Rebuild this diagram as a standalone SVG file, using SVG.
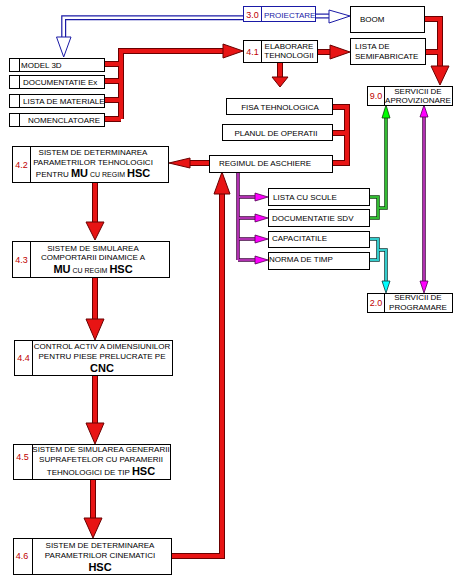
<svg xmlns="http://www.w3.org/2000/svg" xmlns:xlink="http://www.w3.org/1999/xlink" width="458" height="577" viewBox="0 0 458 577">
<style>
.bg{fill:#fff}
.box{fill:#fff;stroke:#000;stroke-width:1}
.bbox{fill:#fff;stroke:#1a1aa6;stroke-width:1}
.t{font-family:"Liberation Sans",Arial,sans-serif;font-size:8px;fill:#000}
.tc{text-anchor:middle}
.num{font-family:"Liberation Sans",Arial,sans-serif;font-size:9px;fill:#c00000;text-anchor:middle}
.big{font-size:11px;font-weight:bold}
.sm{font-size:7px}
.blue{fill:#1a1aa6}
.ro{fill:none;stroke:#6a0000;stroke-width:6;stroke-linejoin:miter}
.ri{fill:none;stroke:#e81414;stroke-width:4;stroke-linejoin:miter}
.rh{fill:#e81414;stroke:#6a0000;stroke-width:1}
.bo{fill:none;stroke:#1a1aa6;stroke-width:5}
.bi{fill:none;stroke:#fff;stroke-width:2.6}
.bh{fill:#fff;stroke:#1a1aa6;stroke-width:1}
.mo{fill:none;stroke:#400040;stroke-width:3.5}
.mi{fill:none;stroke:#b030b0;stroke-width:2}
.mh{fill:#ff00ff;stroke:#500050;stroke-width:0.8}
.go{fill:none;stroke:#0a400a;stroke-width:3.5}
.gi{fill:none;stroke:#33bb33;stroke-width:2}
.gh{fill:#00ff00;stroke:#0a400a;stroke-width:0.8}
.co{fill:none;stroke:#0a3a3a;stroke-width:3.5}
.ci{fill:none;stroke:#33cccc;stroke-width:2}
.ch{fill:#00ffff;stroke:#0a3a3a;stroke-width:0.8}
</style>
<defs>
<path id="p1" d="M104,64H121M104,81H121M104,100H121M104,119H121M121,119V51H224"/>
<path id="p2" d="M317,52H331"/>
<path id="p3" d="M280,63V78"/>
<path id="p4" d="M424,19H440V67M425,52H440"/>
<path id="p5" d="M332,107H347V163H332M332,133H347"/>
<path id="p6" d="M209,163H189"/>
<path id="p7" d="M95,182V223"/>
<path id="p8" d="M95,277V320"/>
<path id="p9" d="M95,375V424"/>
<path id="p10" d="M93,479V519"/>
<path id="p11" d="M171,556H222V193"/>
<path id="pb1" d="M243,17.7H63.7V38"/>
<path id="pb2" d="M315,16H330"/>
<path id="pm1" d="M238,172V260M238,197H256M238,218H256M238,239H256M238,260H256"/>
<path id="pm2" d="M424,116V282"/>
<path id="pg" d="M369,197H378V218H369M378,208H386V117"/>
<path id="pc" d="M369,239H378V260H369M378,250H386V282"/>
</defs>
<rect class="bg" x="0" y="0" width="458" height="577"/>
<g id="connectors">
<use xlink:href="#pb1" class="bo"/><use xlink:href="#pb1" class="bi"/>
<polygon class="bh" points="56.5,37 71,37 63.7,57"/>
<use xlink:href="#pb2" class="bo"/><use xlink:href="#pb2" class="bi"/>
<polygon class="bh" points="329,10 329,23 350,16"/>
<use xlink:href="#p1" class="ro"/><use xlink:href="#p2" class="ro"/><use xlink:href="#p3" class="ro"/><use xlink:href="#p4" class="ro"/><use xlink:href="#p5" class="ro"/><use xlink:href="#p6" class="ro"/><use xlink:href="#p7" class="ro"/><use xlink:href="#p8" class="ro"/><use xlink:href="#p9" class="ro"/><use xlink:href="#p10" class="ro"/><use xlink:href="#p11" class="ro"/>
<use xlink:href="#p1" class="ri"/><use xlink:href="#p2" class="ri"/><use xlink:href="#p3" class="ri"/><use xlink:href="#p4" class="ri"/><use xlink:href="#p5" class="ri"/><use xlink:href="#p6" class="ri"/><use xlink:href="#p7" class="ri"/><use xlink:href="#p8" class="ri"/><use xlink:href="#p9" class="ri"/><use xlink:href="#p10" class="ri"/><use xlink:href="#p11" class="ri"/>
<polygon class="rh" points="223,44 223,58 243,51"/>
<polygon class="rh" points="330,45 330,59 350,52"/>
<polygon class="rh" points="272,77 288,77 280,87"/>
<polygon class="rh" points="431,66 449,66 440,85"/>
<polygon class="rh" points="190,158 190,168 169,163"/>
<polygon class="rh" points="86,222 104,222 95,240"/>
<polygon class="rh" points="86,319 104,319 95,340"/>
<polygon class="rh" points="86,423 104,423 95,444"/>
<polygon class="rh" points="84,518 102,518 93,538"/>
<polygon class="rh" points="214,194 230,194 222,172"/>
<use xlink:href="#pm1" class="mo"/><use xlink:href="#pm1" class="mi"/>
<use xlink:href="#pm2" class="mo"/><use xlink:href="#pm2" class="mi"/>
<polygon class="mh" points="255,193 255,201 268,197"/>
<polygon class="mh" points="255,214 255,222 268,218"/>
<polygon class="mh" points="255,235 255,243 268,239"/>
<polygon class="mh" points="255,256 255,264 268,260"/>
<polygon class="mh" points="420,117 428,117 424,105"/>
<polygon class="mh" points="420,281 428,281 424,293"/>
<use xlink:href="#pg" class="go"/><use xlink:href="#pg" class="gi"/>
<polygon class="gh" points="382,118 390,118 386,105"/>
<use xlink:href="#pc" class="co"/><use xlink:href="#pc" class="ci"/>
<polygon class="ch" points="382,281 390,281 386,293"/>
</g>
<g id="n-model3d"><rect class="box" x="9.5" y="58.5" width="95" height="13"/><line x1="19.5" y1="58.5" x2="19.5" y2="71.5" stroke="#000"/><text class="t" x="21" y="68">MODEL 3D</text></g>
<g id="n-docex"><rect class="box" x="9.5" y="75.5" width="95" height="13"/><line x1="19.5" y1="75.5" x2="19.5" y2="88.5" stroke="#000"/><text class="t" x="23" y="84.5">DOCUMENTATIE Ex</text></g>
<g id="n-listamat"><rect class="box" x="9.5" y="94.5" width="95" height="13"/><line x1="19.5" y1="94.5" x2="19.5" y2="107.5" stroke="#000"/><text class="t" x="23" y="103.5">LISTA DE MATERIALE</text></g>
<g id="n-nomencl"><rect class="box" x="9.5" y="113.5" width="95" height="13"/><line x1="19.5" y1="113.5" x2="19.5" y2="126.5" stroke="#000"/><text class="t" x="28" y="122.5">NOMENCLATOARE</text></g>
<g id="n-3-0"><rect class="bbox" x="243.5" y="6.5" width="72" height="15"/><line x1="261.5" y1="6.5" x2="261.5" y2="21.5" stroke="#1a1aa6"/><text class="num" x="252.5" y="17.5">3.0</text><text class="t blue" x="264" y="17.5">PROIECTARE</text></g>
<g id="n-boom"><rect class="box" x="350.5" y="6.5" width="74" height="26"/><text class="t" x="360" y="21.5">BOOM</text></g>
<g id="n-4-1"><rect class="box" x="243.5" y="40.5" width="74" height="22"/><line x1="261.5" y1="40.5" x2="261.5" y2="62.5" stroke="#000"/><text class="num" x="252.5" y="54.5">4.1</text><text class="t tc" x="289" y="48.5">ELABORARE</text><text class="t tc" x="289" y="58">TEHNOLOGII</text></g>
<g id="n-listasemi"><rect class="box" x="350.5" y="38.5" width="75" height="26"/><text class="t" x="355" y="48.5">LISTA DE</text><text class="t" x="355" y="58.5">SEMIFABRICATE</text></g>
<g id="n-9-0"><rect class="box" x="367.5" y="86.5" width="85" height="19"/><line x1="384.5" y1="86.5" x2="384.5" y2="105.5" stroke="#000"/><text class="num" x="376" y="99">9.0</text><text class="t tc" x="418" y="93.5">SERVICII DE</text><text class="t tc" x="418" y="103">APROVIZIONARE</text></g>
<g id="n-fisa"><rect class="box" x="226.5" y="98.5" width="106" height="16"/><text class="t tc" x="280" y="109.5">FISA TEHNOLOGICA</text></g>
<g id="n-planul"><rect class="box" x="222.5" y="124.5" width="110" height="16"/><text class="t tc" x="276" y="135.5">PLANUL DE OPERATII</text></g>
<g id="n-regimul"><rect class="box" x="209.5" y="155.5" width="123" height="17"/><text class="t" x="219" y="165.5">REGIMUL DE ASCHIERE</text></g>
<g id="n-scule"><rect class="box" x="268.5" y="188.5" width="101" height="17"/><text class="t" x="273" y="199.5">LISTA CU SCULE</text></g>
<g id="n-sdv"><rect class="box" x="268.5" y="209.5" width="101" height="17"/><text class="t" x="272" y="221">DOCUMENTATIE SDV</text></g>
<g id="n-capac"><rect class="box" x="268.5" y="231.5" width="101" height="16"/><text class="t" x="272" y="241">CAPACITATILE</text></g>
<g id="n-norma"><rect class="box" x="268.5" y="252.5" width="101" height="17"/><text class="t" x="269" y="262">NORMA DE TIMP</text></g>
<g id="n-2-0"><rect class="box" x="367.5" y="293.5" width="85" height="19"/><line x1="384.5" y1="293.5" x2="384.5" y2="312.5" stroke="#000"/><text class="num" x="376" y="306">2.0</text><text class="t tc" x="418" y="300">SERVICII DE</text><text class="t tc" x="418" y="310">PROGRAMARE</text></g>
<g id="n-4-2"><rect class="box" x="12.5" y="146.5" width="156" height="36"/><line x1="30.5" y1="146.5" x2="30.5" y2="182.5" stroke="#000"/><text class="num" x="21.5" y="168">4.2</text><text class="t tc" x="93" y="155">SISTEM DE DETERMINAREA</text><text class="t tc" x="93" y="164.5">PARAMETRILOR TEHNOLOGICI</text><text class="t tc" x="93" y="177">PENTRU <tspan class="big">MU</tspan><tspan class="sm"> CU REGIM </tspan><tspan class="big">HSC</tspan></text></g>
<g id="n-4-3"><rect class="box" x="12.5" y="241.5" width="157" height="36"/><line x1="30.5" y1="241.5" x2="30.5" y2="277.5" stroke="#000"/><text class="num" x="21.5" y="263">4.3</text><text class="t tc" x="93" y="250.5">SISTEM DE SIMULAREA</text><text class="t tc" x="93" y="260">COMPORTARII DINAMICE A</text><text class="t tc" x="93" y="273"><tspan class="big">MU</tspan><tspan class="sm"> CU REGIM </tspan><tspan class="big">HSC</tspan></text></g>
<g id="n-4-4"><rect class="box" x="14.5" y="340.5" width="158" height="35"/><line x1="32.5" y1="340.5" x2="32.5" y2="375.5" stroke="#000"/><text class="num" x="23.5" y="361">4.4</text><text class="t tc" x="102" y="348.5">CONTROL ACTIV A DIMENSIUNILOR</text><text class="t tc" x="102" y="359">PENTRU PIESE PRELUCRATE PE</text><text class="t tc big" x="102" y="372">CNC</text></g>
<g id="n-4-5"><rect class="box" x="13.5" y="444.5" width="157" height="35"/><line x1="32.5" y1="444.5" x2="32.5" y2="479.5" stroke="#000"/><text class="num" x="22.5" y="460">4.5</text><text class="t tc" x="101" y="452">SISTEM DE SIMULAREA GENERARII</text><text class="t tc" x="101" y="462">SUPRAFETELOR CU PARAMERII</text><text class="t tc" x="101" y="475">TEHNOLOGICI DE TIP <tspan class="big">HSC</tspan></text></g>
<g id="n-4-6"><rect class="box" x="13.5" y="538.5" width="158" height="36"/><line x1="32.5" y1="538.5" x2="32.5" y2="574.5" stroke="#000"/><text class="num" x="22" y="559">4.6</text><text class="t tc" x="100" y="548">SISTEM DE DETERMINAREA</text><text class="t tc" x="100" y="558">PARAMETRILOR CINEMATICI</text><text class="t tc big" x="100" y="571">HSC</text></g>
</svg>
